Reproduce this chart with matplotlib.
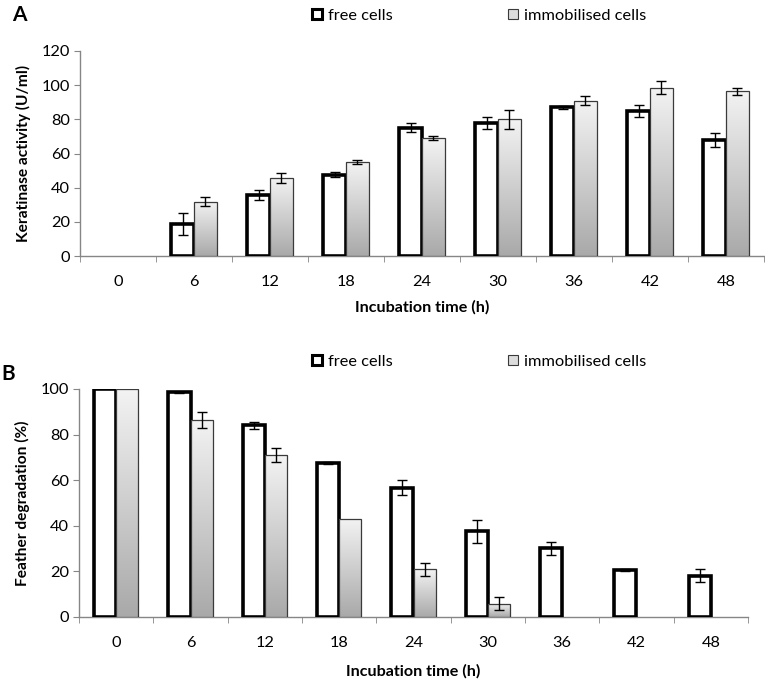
import numpy as np
import matplotlib
matplotlib.use("Agg")
import matplotlib.pyplot as plt
from matplotlib.patches import Rectangle
from matplotlib.colors import LinearSegmentedColormap

plt.rcParams['font.family'] = ['Lato', 'DejaVu Sans']

categories = ['0', '6', '12', '18', '24', '30', '36', '42', '48']

# Panel A: keratinase activity (U/ml)
ker_free = [0, 18.7, 35.8, 47.6, 75.2, 77.7, 87.0, 84.8, 68.0]
ker_free_err = [0, 6.2, 3.1, 1.6, 2.8, 3.4, 0.8, 3.3, 4.1]
ker_imm = [0, 31.9, 45.8, 55.0, 69.0, 80.0, 91.0, 98.5, 96.4]
ker_imm_err = [0, 2.8, 3.0, 1.3, 1.3, 5.6, 2.6, 3.7, 2.0]

# Panel B: feather degradation (%)
deg_free = [100, 98.5, 84.0, 67.5, 56.6, 37.6, 30.1, 20.7, 18.1]
deg_free_err = [0, 0.4, 1.4, 0.3, 3.3, 5.0, 2.8, 0.4, 2.8]
deg_imm = [100, 86.5, 71.0, 43.0, 21.0, 5.9, 0, 0, 0]
deg_imm_err = [0, 3.5, 3.0, 0, 2.9, 2.8, 0, 0, 0]

legend_labels = ['free cells', 'immobilised cells']

W, H = 765, 680
fig = plt.figure(figsize=(W / 100, H / 100), dpi=100)

grad_cmap = LinearSegmentedColormap.from_list('g', ['#a9a9a9', '#f3f3f3'])
axis_gray = '#868686'


def panel(rect, free, free_err, imm, imm_err, ymax, ylabel, letter, letter_xy, legend_y,
          xlabelpad):
    ax = fig.add_axes(rect)
    n = len(categories)
    x = np.arange(n)
    bw = 0.30
    ax.set_xlim(-0.5, n - 0.5)
    ax.set_ylim(0, ymax)
    # free cells bars
    fb = ax.bar(x - bw / 2, free, width=bw, facecolor='white', edgecolor='black',
                linewidth=2.6, zorder=3)
    # immobilised bars with gradient
    ib = ax.bar(x + bw / 2, imm, width=bw, facecolor='none', edgecolor='#3a3a3a',
                linewidth=0.9, zorder=4)
    grad = np.linspace(0, 1, 256).reshape(-1, 1)
    for b, v in zip(ib, imm):
        if v <= 0:
            b.set_visible(False)
            continue
        x0 = b.get_x()
        im = ax.imshow(grad, cmap=grad_cmap, origin='lower', aspect='auto',
                       extent=[x0, x0 + b.get_width(), 0, v], zorder=3.5,
                       interpolation='bilinear')
        im.set_clip_path(b)
    for b, v in zip(fb, free):
        if v <= 0:
            b.set_visible(False)
    # error bars
    fe = [e if v > 0 and e > 0 else np.nan for v, e in zip(free, free_err)]
    ie = [e if v > 0 and e > 0 else np.nan for v, e in zip(imm, imm_err)]
    fv = [v if not np.isnan(e) else np.nan for v, e in zip(free, fe)]
    iv = [v if not np.isnan(e) else np.nan for v, e in zip(imm, ie)]
    ax.errorbar(x - bw / 2, fv, yerr=fe, fmt='none', ecolor='black', elinewidth=1.0,
                capsize=3.5, capthick=1.0, zorder=6)
    ax.errorbar(x + bw / 2, iv, yerr=ie, fmt='none', ecolor='black', elinewidth=1.0,
                capsize=3.5, capthick=1.0, zorder=6)
    ax.set_xlim(-0.5, n - 0.5)
    ax.set_ylim(0, ymax)
    # spines
    for s in ['top', 'right']:
        ax.spines[s].set_visible(False)
    for s in ['left', 'bottom']:
        ax.spines[s].set_color(axis_gray)
        ax.spines[s].set_linewidth(1.0)
    ax.set_yticks(np.arange(0, ymax + 1, 20))
    ax.tick_params(axis='y', direction='out', length=4, color=axis_gray, labelsize=11.8,
                   pad=3)
    ax.set_xticks(x)
    ax.set_xticklabels(categories)
    ax.tick_params(axis='x', which='major', length=0, labelsize=11.8, pad=14)
    ax.set_xticks(np.arange(-0.5, n, 1), minor=True)
    ax.tick_params(axis='x', which='minor', direction='out', length=4, color=axis_gray)
    ax.set_xlabel('Incubation time (h)', fontsize=11.6, fontweight='bold',
                  labelpad=xlabelpad)
    ax.set_ylabel(ylabel, fontsize=11.2, fontweight='bold', labelpad=8)
    fig.text(letter_xy[0] / W, 1 - letter_xy[1] / H, letter, fontsize=15,
             fontweight='bold', ha='left', va='center')
    # legend
    hf = Rectangle((0, 0), 1, 1, facecolor='white', edgecolor='black', linewidth=2.2)
    hi = Rectangle((0, 0), 1, 1, facecolor='#dcdcdc', edgecolor='#3a3a3a', linewidth=0.8)
    fig.legend([hf, hi], legend_labels, loc='center left',
               bbox_to_anchor=(312 / W, 1 - legend_y / H), ncol=2, frameon=False,
               fontsize=11.8, handlelength=0.6, handleheight=0.6, handletextpad=0.4,
               columnspacing=7.0, borderpad=0, borderaxespad=0)
    return ax


axA = panel([80 / W, 1 - 256 / H, 684 / W, 205 / H], ker_free, ker_free_err,
            ker_imm, ker_imm_err, 120, 'Keratinase activity (U/ml)', 'A', (12, 15), 16, 8)
axB = panel([79 / W, 1 - 617 / H, 669 / W, 228 / H], deg_free, deg_free_err,
            deg_imm, deg_imm_err, 100, 'Feather degradation (%)', 'B', (1, 374), 362, 10)

fig.savefig('out.png', dpi=100)
